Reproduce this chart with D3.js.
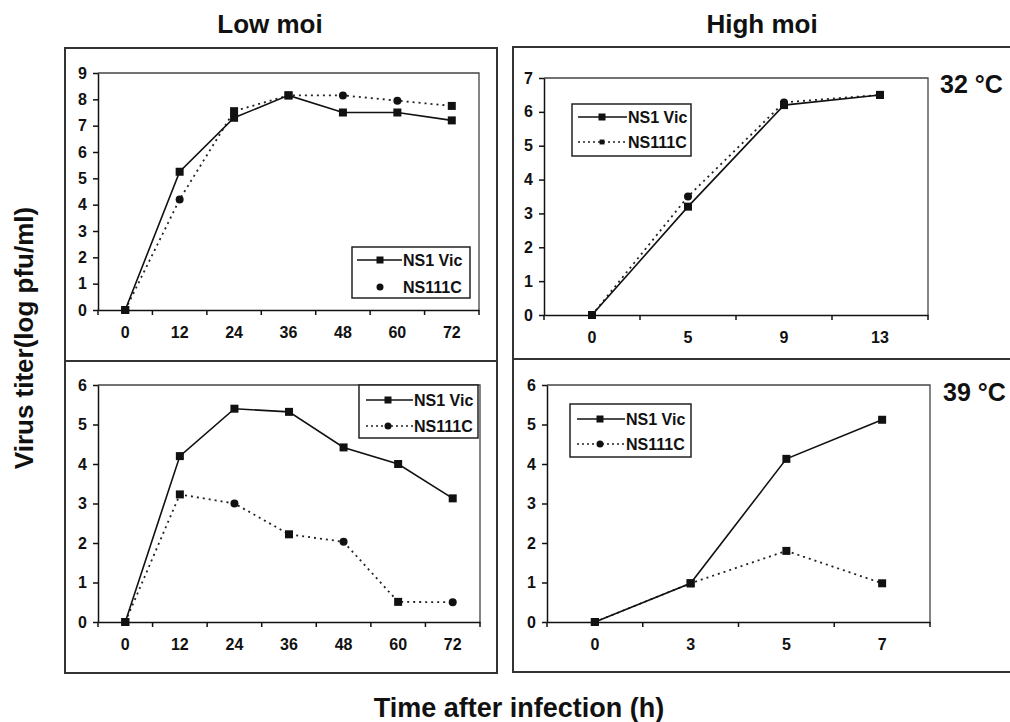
<!DOCTYPE html>
<html>
<head>
<meta charset="utf-8">
<script src="https://cdn.jsdelivr.net/npm/d3@7"></script>
<style>
  body { margin:0; background:#fff; }
  svg text { font-family:"Liberation Sans", Arial, sans-serif; font-weight:bold; fill:#111; }
</style>
</head>
<body>
<svg id="chart" width="1010" height="722"></svg>
<script>
/* Virus growth curves — NS1 Vic vs NS111C, low / high moi, 32 °C / 39 °C */

// time points (h), one list per x axis
const LOW_TIMES    = ['0','12','24','36','48','60','72'];
const HIGH32_TIMES = ['0','5','9','13'];
const HIGH39_TIMES = ['0','3','5','7'];
const SERIES = ['NS1 Vic','NS111C'];

// titers, log pfu/ml
const LOW32_VIC  = [0, 5.25, 7.3, 8.15, 7.5, 7.5, 7.2];
const LOW32_C    = [0, 4.2, 7.55, 8.15, 8.15, 7.95, 7.75];
const LOW39_VIC  = [0, 4.2, 5.4, 5.32, 4.42, 4.0, 3.13];
const LOW39_C    = [0, 3.23, 3.0, 2.22, 2.03, 0.51, 0.5];
const HIGH32_VIC = [0, 3.2, 6.2, 6.5];
const HIGH32_C   = [0, 3.5, 6.28, 6.5];
const HIGH39_VIC = [0, 0.98, 4.13, 5.12];
const HIGH39_C   = [0, 0.98, 1.8, 0.98];

// the scanned figure mixes markers on the mutant curve
const LOW32_C_MARKS  = ['sq','ci','sq','sq','ci','ci','sq'];
const LOW39_C_MARKS  = ['sq','sq','ci','sq','ci','sq','ci'];
const HIGH32_C_MARKS = ['sq','ci','ci','sq'];
const HIGH39_C_MARKS = ['sq','sq','sq','sq'];

const PANELS = [
  { x0:98,  x1:479, y0:73,  y1:310, ymax:9, cats:LOW_TIMES,    vic:LOW32_VIC,  mut:LOW32_C,  marks:LOW32_C_MARKS,
    leg:{x:352, y:247, w:118, h:51, l0:5, l1:50, m:28, t:51, r:[13,40], mutLine:false, mutMark:'ci'} },
  { x0:98,  x1:480, y0:385, y1:622, ymax:6, cats:LOW_TIMES,    vic:LOW39_VIC,  mut:LOW39_C,  marks:LOW39_C_MARKS,
    leg:{x:359, y:385, w:119, h:53, l0:7, l1:54, m:29, t:55, r:[15,41], mutLine:true, mutMark:'ci'} },
  { x0:544, x1:928, y0:78,  y1:315, ymax:7, cats:HIGH32_TIMES, vic:HIGH32_VIC, mut:HIGH32_C, marks:HIGH32_C_MARKS,
    leg:{x:572, y:104, w:119, h:52, l0:6, l1:55, m:30, t:56, r:[13,38], mutLine:true, mutMark:'small'} },
  { x0:547, x1:930, y0:385, y1:622, ymax:6, cats:HIGH39_TIMES, vic:HIGH39_VIC, mut:HIGH39_C, marks:HIGH39_C_MARKS,
    leg:{x:570, y:404, w:121, h:53, l0:7, l1:55, m:30, t:56, r:[15,40], mutLine:true, mutMark:'ci'} },
];

const svg = d3.select('#chart');

function marker(g, kind, cx, cy, s) {
  if (kind === 'ci') {
    g.append('circle').attr('cx', cx).attr('cy', cy).attr('r', s/2).attr('fill', '#111');
  } else {
    const k = kind === 'small' ? s*0.7 : s;
    g.append('rect').attr('x', cx-k/2).attr('y', cy-k/2).attr('width', k).attr('height', k).attr('fill', '#111');
  }
}

function drawPanel(p) {
  const g = svg.append('g');
  const x = d3.scaleBand().domain(p.cats).range([p.x0, p.x1]).padding(0);
  const y = d3.scaleLinear().domain([0, p.ymax]).range([p.y1, p.y0]);
  const cx = i => x(p.cats[i]) + x.bandwidth()/2;

  // plot area frame (top + right)
  g.append('path')
    .attr('d', `M${p.x0},${p.y0}H${p.x1}V${p.y1}`)
    .attr('fill', 'none').attr('stroke', '#444').attr('stroke-width', 1.3);

  const ya = g.append('g').attr('transform', `translate(${p.x0},0)`)
    .call(d3.axisLeft(y).ticks(p.ymax).tickSize(5).tickPadding(6).tickSizeOuter(0));
  const xa = g.append('g').attr('transform', `translate(0,${p.y1})`)
    .call(d3.axisBottom(x).tickSize(0).tickPadding(17).tickSizeOuter(0));
  [ya, xa].forEach(a => {
    a.selectAll('path,line').attr('stroke', '#111').attr('stroke-width', 1.5);
    a.selectAll('text').style('font-size', '16px');
  });
  // category ticks sit between the time points
  g.selectAll('.bt').data(d3.range(p.cats.length + 1)).enter().append('line')
    .attr('x1', i => p.x0 + i*x.step()).attr('x2', i => p.x0 + i*x.step())
    .attr('y1', p.y1).attr('y2', p.y1 + 5)
    .attr('stroke', '#111').attr('stroke-width', 1.5);

  const line = d3.line().x((d, i) => cx(i)).y(d => y(d));
  g.append('path').datum(p.mut).attr('d', line)
    .attr('fill', 'none').attr('stroke', '#222').attr('stroke-width', 1.8)
    .attr('stroke-dasharray', '2,4');
  g.append('path').datum(p.vic).attr('d', line)
    .attr('fill', 'none').attr('stroke', '#111').attr('stroke-width', 1.6);

  p.mut.forEach((v, i) => marker(g, p.marks[i], cx(i), y(v), 8));
  p.vic.forEach((v, i) => marker(g, 'sq', cx(i), y(v), 8));

  // legend
  const L = p.leg;
  const lg = g.append('g').attr('transform', `translate(${L.x},${L.y})`);
  lg.append('rect').attr('width', L.w).attr('height', L.h)
    .attr('fill', '#fff').attr('stroke', '#222').attr('stroke-width', 1.5);
  lg.append('line').attr('x1', L.l0).attr('x2', L.l1).attr('y1', L.r[0]).attr('y2', L.r[0])
    .attr('stroke', '#111').attr('stroke-width', 1.6);
  marker(lg, 'sq', L.m, L.r[0], 7);
  if (L.mutLine) {
    lg.append('line').attr('x1', L.l0).attr('x2', L.l1).attr('y1', L.r[1]).attr('y2', L.r[1])
      .attr('stroke', '#222').attr('stroke-width', 1.6).attr('stroke-dasharray', '2,3');
  }
  marker(lg, L.mutMark, L.m, L.r[1], 7);
  SERIES.forEach((s, i) => {
    lg.append('text').attr('x', L.t).attr('y', L.r[i]).attr('dy', '0.36em')
      .style('font-size', '16px').text(s);
  });
}

// outer frames
const frame = svg.append('g').attr('fill', 'none').attr('stroke', '#333').attr('stroke-width', 2);
frame.append('rect').attr('x', 65).attr('y', 48).attr('width', 432).attr('height', 625);
frame.append('line').attr('x1', 65).attr('x2', 497).attr('y1', 361).attr('y2', 361);
frame.append('rect').attr('x', 513).attr('y', 47).attr('width', 520).attr('height', 625);
frame.append('line').attr('x1', 513).attr('x2', 1012).attr('y1', 359).attr('y2', 359);

PANELS.forEach(drawPanel);

// titles and labels
const T = (txt, x, y, size, anchor) => svg.append('text').attr('x', x).attr('y', y)
  .attr('text-anchor', anchor || 'middle').style('font-size', size + 'px').text(txt);
T('Low moi', 270, 33, 26);
T('High moi', 762, 33, 26);
T('32 °C', 940, 93, 25, 'start');
T('39 °C', 943, 401, 25, 'start');
T('Time after infection (h)', 519, 717, 27);
svg.append('text').attr('transform', 'translate(33,338) rotate(-90)')
  .attr('text-anchor', 'middle').style('font-size', '26px').text('Virus titer(log pfu/ml)');
</script>
</body>
</html>
